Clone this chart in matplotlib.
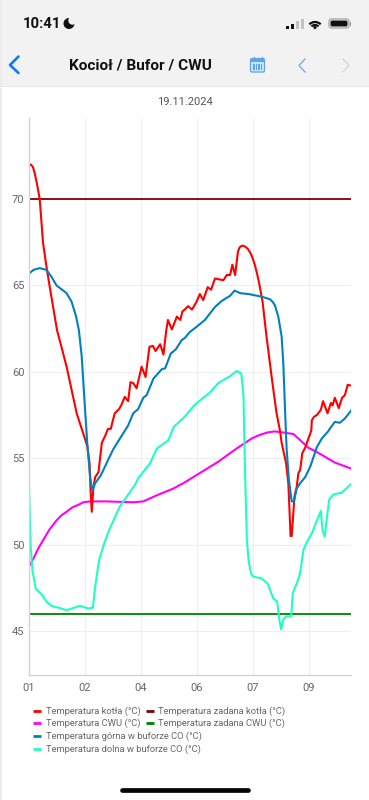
import matplotlib
matplotlib.use("Agg")
import matplotlib.pyplot as plt
from matplotlib.patches import Rectangle, FancyBboxPatch, Circle, Arc

plt.rcParams['font.family'] = ['Roboto', 'DejaVu Sans']

tick_labels = ["01", "02", "04", "06", "07", "09"]
y_ticks = [45, 50, 55, 60, 65, 70]

kociol_x = [0, .04, .08, .11, .15, .20, .26, .32, .38, .45, .51, .60, .68, .77, .86, .96, 1.05, 1.09, 1.11, 1.13, 1.16, 1.19, 1.25, 1.31,
            1.37, 1.42, 1.47, 1.50, 1.54, 1.62, 1.66, 1.72, 1.78, 1.82, 1.87, 1.93, 2.02, 2.09, 2.16, 2.22, 2.27, 2.35,
            2.41, 2.46, 2.49, 2.56, 2.65, 2.71, 2.75, 2.79, 2.85, 2.92, 3.0, 3.06, 3.12, 3.2, 3.26, 3.33, 3.48, 3.54,
            3.6, 3.64, 3.69, 3.74, 3.77, 3.81, 3.87, 3.92, 3.96, 4.0, 4.04, 4.08, 4.12, 4.18, 4.25, 4.35, 4.43, 4.49, 4.52, 4.6, 4.64, 4.68,
            4.7, 4.75, 4.79, 4.82, 4.85, 4.89, 4.94, 5.0, 5.05, 5.06, 5.1, 5.15, 5.22, 5.26, 5.34, 5.4, 5.43, 5.47,
            5.54, 5.6, 5.65, 5.7, 5.76]
kociol_y = [71.9, 72.0, 71.85, 71.5, 70.9, 70.0, 67.45, 66.1, 64.9, 63.55, 62.4, 61.3, 60.3, 58.95, 57.6, 56.6, 55.7, 54.7, 53.0, 51.9, 53.35, 53.9,
            54.2, 55.9, 56.3, 56.7, 56.7, 57.1, 57.6, 57.85, 58.1, 58.55, 58.3, 59.4, 59.35, 59.05, 60.3, 59.7, 61.45,
            61.5, 61.2, 61.6, 61.0, 62.4, 63.0, 62.45, 63.2, 63.0, 63.5, 63.6, 63.8, 63.6, 64.05, 64.5, 64.15, 64.9,
            64.75, 65.4, 65.3, 65.6, 65.6, 66.2, 65.6, 66.95, 67.2, 67.3, 67.25, 67.1, 66.9, 66.6, 66.2, 65.7, 65.1, 64.05, 62.05, 59.5, 57.6,
            56.6, 55.9, 54.7, 53.55, 50.5, 50.5, 52.8, 53.35, 54.15, 54.3, 55.3, 55.6, 56.15, 56.6, 57.2, 57.4, 57.5,
            57.8, 58.3, 57.6, 58.2, 58.05, 58.5, 57.9, 58.5, 58.65, 59.25, 59.2]

gorna_x = [0, .09, .2, .32, .41, .5, .68, .77, .85, .9, .95, 1.01, 1.05, 1.1, 1.14, 1.19, 1.29, 1.51, 1.78, 1.87, 1.96,
           2.05, 2.11, 2.23, 2.38, 2.44, 2.54, 2.63, 2.74, 2.79, 2.88, 3.0, 3.15, 3.33, 3.45, 3.6, 3.68, 3.78, 3.93,
           4.16, 4.31, 4.36, 4.4, 4.46, 4.52, 4.55, 4.59, 4.61, 4.65, 4.7, 4.74, 4.79, 4.85, 4.94, 5.03, 5.15, 5.24, 5.35,
           5.38, 5.47, 5.56, 5.65, 5.76]
gorna_y = [65.66, 65.9, 66.0, 65.9, 65.5, 65.0, 64.55, 64.05, 63.2, 62.4, 60.9, 57.8, 55.85, 53.9, 53.1, 53.55, 54.0,
           55.5, 56.9, 57.6, 57.85, 58.5, 58.65, 59.6, 60.15, 60.2, 61.05, 61.3, 61.85, 61.95, 62.3, 62.6, 63.0, 63.75,
           64.1, 64.4, 64.7, 64.55, 64.5, 64.35, 64.2, 64.05, 63.85, 63.2, 62.05, 60.5, 57.05, 55.5, 53.75, 52.5, 52.5, 53.25,
           53.55, 53.9, 54.5, 55.65, 56.15, 56.55, 56.7, 57.1, 57.05, 57.3, 57.75]

cwu_x = [0, .09, .17, .26, .37, .5, .59, .68, .78, .89, .98, 1.1, 1.4, 1.87, 2.05, 2.29, 2.59, 2.79, 3.09, 3.39, 3.69, 3.85, 3.99, 4.13, 4.28, 4.4, 4.52,
         4.73, 4.85, 5.0, 5.18, 5.47, 5.76]
cwu_y = [48.7, 49.2, 49.75, 50.25, 50.85, 51.4, 51.7, 51.9, 52.15, 52.3, 52.45, 52.5, 52.5, 52.45, 52.5, 52.85, 53.25, 53.6, 54.2, 54.8, 55.5, 55.85,
         56.15, 56.35, 56.5, 56.55, 56.5, 56.4, 56.05, 55.6, 55.3, 54.75, 54.4]

dolna_x = [0, .03, .04, .07, .13, .24, .32, .41, .59, .68, .77, .92, 1.07, 1.15, 1.19, 1.26, 1.35, 1.44, 1.63, 1.9,
           1.96, 2.17, 2.29, 2.5, 2.59, 2.79, 2.97, 3.24, 3.39, 3.6, 3.72, 3.8, 3.84, 3.85, 3.87, 3.9, 3.93, 3.97, 4.01,
           4.16, 4.27, 4.37, 4.44, 4.48, 4.51, 4.55, 4.6, 4.69, 4.72, 4.79, 4.85, 4.91, 4.97, 5.06, 5.15, 5.22, 5.25,
           5.29, 5.33, 5.37, 5.44, 5.59, 5.76]
dolna_y = [54.4, 50.85, 49.9, 48.5, 47.45, 47.1, 46.7, 46.45, 46.3, 46.2, 46.3, 46.45, 46.3, 46.35, 47.55, 49.1, 50.05,
           50.85, 52.2, 53.45, 53.85, 54.7, 55.55, 56.05, 56.8, 57.4, 58.1, 58.8, 59.35, 59.75, 60.05, 59.9, 58.55, 56.6,
           53.75, 50.25, 49.1, 48.35, 48.15, 48.05, 47.75, 46.9, 46.7, 45.65, 45.1, 45.65, 45.85, 45.85, 47.2, 47.75,
           48.35, 49.7, 50.15, 50.65, 51.4, 51.95, 50.85, 50.45, 51.6, 52.6, 52.9, 53.0, 53.5]

zadana_kotla = 70
zadana_cwu = 46

legend_rows = [("Temperatura kotła (°C)", "#ff0000", 33, 46, 711),
               ("Temperatura zadana kotła (°C)", "#800000", 146, 158, 711),
               ("Temperatura CWU (°C)", "#ff00ff", 33, 46, 723.5),
               ("Temperatura zadana CWU (°C)", "#008000", 146, 158, 723.5),
               ("Temperatura górna w buforze CO (°C)", "#0080c0", 33, 46, 736),
               ("Temperatura dolna w buforze CO (°C)", "#1fffc0", 33, 46, 749)]

fig = plt.figure(figsize=(3.69, 8), dpi=100)
W, H = 369, 800

# warstwa na pasek aplikacji, w pikselach
bg = fig.add_axes([0, 0, 1, 1])
bg.set_xlim(0, W)
bg.set_ylim(H, 0)
bg.axis("off")
bg.add_patch(Rectangle((0, 0), W, 86, color="#f2f2f2", lw=0))
bg.add_patch(Rectangle((0, 86), W, 1, color="#e6e6e6", lw=0))
bg.add_patch(Rectangle((0, 0), 1.5, H, color="#ececec", lw=0))

ax = fig.add_axes([28.5 / W, 1 - 675 / H, (351 - 28.5) / W, (675 - 118) / H])
ax.patch.set_alpha(0)
ax.set_xlim(0, (351 - 28.5) / 56)
ax.set_ylim(70 - (675 - 199) / 17.28, 70 + (199 - 118) / 17.28)
ax.set_xticks(range(len(tick_labels)))
ax.set_xticklabels(tick_labels)
ax.set_yticks(y_ticks)
ax.grid(True, color="#eeeeee", lw=0.8)
ax.set_axisbelow(True)
ax.tick_params(length=0, labelsize=8, labelcolor="#666666", pad=5.5)
ax.tick_params(axis="y", pad=3)
for s in ["top", "right"]:
    ax.spines[s].set_visible(False)
for s in ["left", "bottom"]:
    ax.spines[s].set_color("#d4d4d4")
    ax.spines[s].set_linewidth(1)

lw = 1.5
ax.axhline(zadana_kotla, color="#800000", lw=1.3)
ax.axhline(zadana_cwu, color="#008000", lw=1.3)
ax.plot(cwu_x, cwu_y, color="#ff00ff", lw=lw)
ax.plot(dolna_x, dolna_y, color="#1fffc0", lw=lw)
ax.plot(kociol_x, kociol_y, color="#ff0000", lw=lw)
ax.plot(gorna_x, gorna_y, color="#0080c0", lw=lw)

top = fig.add_axes([0, 0, 1, 1])
top.set_xlim(0, W)
top.set_ylim(H, 0)
top.axis("off")
top.patch.set_alpha(0)

for label, col, hx, tx, ty in legend_rows:
    top.plot([hx, hx + 8], [ty - 0.5, ty - 0.5], color=col, lw=2, solid_capstyle="butt")
    top.text(tx, ty, label, fontsize=6.75, color="#666666", va="center", ha="left")

top.text(184.5, 102, "19.11.2024", fontsize=8, color="#555555", ha="center", va="center")
top.text(140, 65.5, "Kocioł / Bufor / CWU", fontsize=11.1, fontweight="bold", color="#111111", ha="center", va="center")
top.text(23, 24, "10:41", fontsize=10.7, fontweight="bold", color="#111111", ha="left", va="center")

# ksiezyc
top.add_patch(Circle((69, 23.5), 5.5, color="#111111", lw=0))
top.add_patch(Circle((72.5, 20.5), 4.2, color="#f2f2f2", lw=0))

# zasieg
for x0, h, c in [(286, 3, "#111111"), (291, 5, "#111111"), (296, 8, "#c4c4c4"), (300.5, 10, "#c4c4c4")]:
    top.add_patch(Rectangle((x0, 29 - h), 3, h, color=c, lw=0))

# wifi
for d in [16, 10]:
    top.add_patch(Arc((315, 30), d, d, theta1=225, theta2=315, color="#111111", lw=1.6))
top.add_patch(Circle((315, 27.5), 1.6, color="#111111", lw=0))

# bateria
top.add_patch(FancyBboxPatch((329, 19), 20, 9, boxstyle="round,pad=0,rounding_size=2.5", fc="none", ec="#999999", lw=0.8))
top.add_patch(FancyBboxPatch((330.5, 20.5), 17, 6, boxstyle="round,pad=0,rounding_size=1.5", fc="#111111", ec="none"))
top.add_patch(Rectangle((350, 22), 1.3, 3.5, color="#999999", lw=0))

# nawigacja
top.plot([18.5, 10, 18.5], [56.5, 65, 73], color="#0a7aff", lw=1.9, solid_capstyle="round", solid_joinstyle="round")
top.plot([305, 299, 305], [59, 65.5, 72], color="#62a8f5", lw=0.9)
top.plot([343, 349, 343], [59, 65.5, 72], color="#d4d4d4", lw=0.9)

# kalendarz
top.add_patch(FancyBboxPatch((250.5, 58.5), 14, 13.5, boxstyle="round,pad=0,rounding_size=1.5", fc="#cfe4fb", ec="#5aa5ee", lw=0.9))
top.add_patch(Rectangle((250.5, 58.5), 14, 3.5, color="#5aa5ee", lw=0))
for gx in [253, 255.5, 258, 260.5]:
    top.add_patch(Rectangle((gx, 64), 1.6, 6, color="#5aa5ee", lw=0))
for px in [253.5, 261.5]:
    top.plot([px, px], [57, 60], color="#5aa5ee", lw=0.9)

# pasek home
top.plot([122, 248], [790, 790], color="#050505", lw=3.4, solid_capstyle="round")

fig.savefig("out.png", dpi=100, facecolor="white")
